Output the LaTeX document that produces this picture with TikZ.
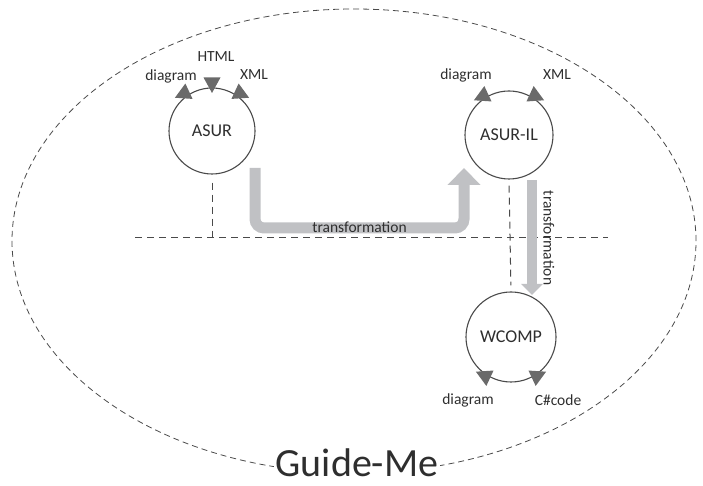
\documentclass[tikz,border=0pt]{standalone}
\usepackage{fontspec}
\setmainfont{Carlito}
\usetikzlibrary{arrows.meta,calc}
\definecolor{inkgray}{HTML}{2E2E2E}
\definecolor{linegray}{HTML}{4A4A4A}
\definecolor{tipgray}{HTML}{6A6A6A}
\definecolor{flowgray}{HTML}{C0C1C4}
\tikzset{
  model/.style={circle,draw=linegray,line width=1.1pt,minimum size=#1,inner sep=0pt,
    text=inkgray,font=\fontsize{18}{18}\selectfont},
  port/.style={text=inkgray,font=\fontsize{15.5}{15.5}\selectfont},
  border/.style={dash pattern=on 6pt off 4pt,line width=0.8pt,draw=linegray},
  divider/.style={dash pattern=on 7pt off 5pt,line width=1pt,draw=linegray},
  flow/.style={line width=11pt,draw=flowgray,rounded corners=9pt},
}
% port triangle: node, angle on the circle, direction of the tip
\newcommand{\porttip}[3]{%
  \fill[tipgray,shift={($(#1.center)+(#2:47)$)},rotate=#3] (9,0) -- (-6.5,8.5) -- (-6.5,-8.5) -- cycle;}
\begin{document}
\begin{tikzpicture}[x=1pt,y=1pt]
    \useasboundingbox (0,0) rectangle (703,486);
    %% platform
    \draw[border] (354,245) ellipse [x radius=342, y radius=232];
    \node[fill=white,inner sep=2pt,text=inkgray,font=\fontsize{40}{40}\selectfont] (guide) at (357,23) {Guide-Me};
    %% models
    \node[model=86pt] (asur) at (212,355) {ASUR};
    \node[model=88pt] (asuril) at (509,351) {ASUR-IL};
    \node[model=90pt] (wcomp) at (511,149) {WCOMP};
    %% ports
    \porttip{asur}{128}{205}
    \porttip{asur}{90}{270}
    \porttip{asur}{52}{-25}
    \porttip{asuril}{125}{205}
    \porttip{asuril}{55}{-25}
    \porttip{wcomp}{-125}{155}
    \porttip{wcomp}{-55}{25}
    \node[port] (asurdiagram) at (171,410) {diagram};
    \node[port] (asurhtml) at (216,429) {HTML};
    \node[port] (asurxml) at (254,411) {XML};
    \node[port] (asurildiagram) at (466,411) {diagram};
    \node[port] (asurilxml) at (557,411) {XML};
    \node[port] (wcompdiagram) at (468,86) {diagram};
    \node[port] (wcompcode) at (558,86) {C\#code};
    %% levels
    \coordinate (sepL) at (135,248);
    \coordinate (sepR) at (608,248);
    \draw[divider] (sepL) -- (sepR);
    \draw[divider,shorten <=8pt] (asur.south) -- (asur.south |- sepL);
    \draw[divider,shorten <=6pt,shorten >=6pt] (asuril.south) -- (wcomp.north);
    %% transformations
    \coordinate (asurout) at ($(asur.center)+(43,-37)$);
    \coordinate (asurilin) at ($(asuril.center)+(-45,-33)$);
    \draw[flow,-{Triangle[width=32pt,length=17pt]}] (asurout) -- ++(0,-60) -| node[pos=0.25,text=inkgray,font=\fontsize{15.5}{15.5}\selectfont,yshift=1pt] {transformation} (asurilin);
    \coordinate (asurilout) at ($(asuril.center)+(23,-45)$);
    \coordinate (wcompin) at ($(wcomp.center)+(21,42)$);
    \draw[flow,line width=10pt,-{Triangle[width=21pt,length=11pt]}] (asurilout) -- (wcompin);
    \node[port,rotate=-90] (translabel) at (549,248) {transformation};
\end{tikzpicture}
\end{document}
